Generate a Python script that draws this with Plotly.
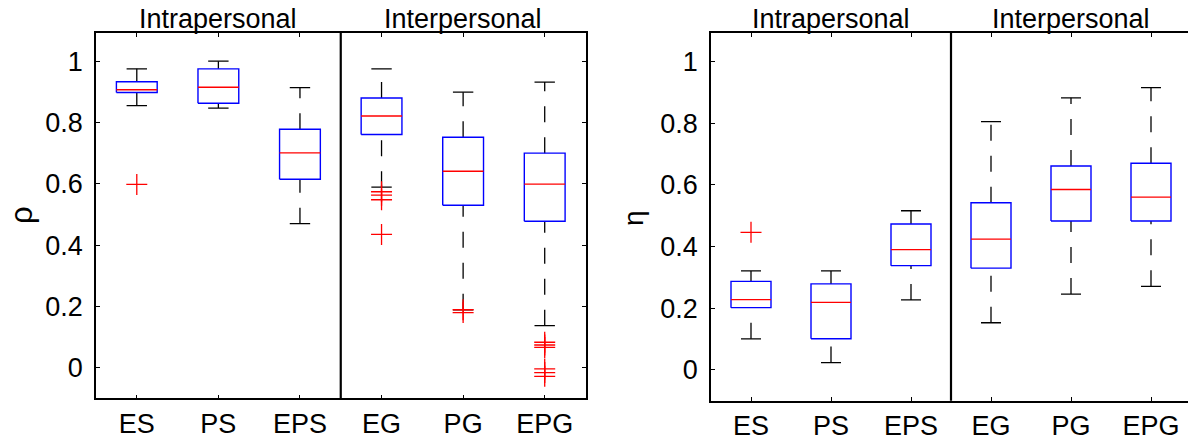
import plotly.graph_objects as go

# Categories and group headers
categories = ["ES", "PS", "EPS", "EG", "PG", "EPG"]
groups = ["Intrapersonal", "Interpersonal"]
n_intra = 3  # first three categories are intrapersonal

# Box statistics for rho (lower adjacent, Q1, median, Q3, upper adjacent)
rho_lower = [0.855, 0.847, 0.470, 0.589, 0.189, 0.137]
rho_q1 = [0.898, 0.863, 0.615, 0.761, 0.530, 0.478]
rho_median = [0.907, 0.915, 0.701, 0.821, 0.641, 0.599]
rho_q3 = [0.933, 0.975, 0.778, 0.880, 0.752, 0.700]
rho_upper = [0.975, 1.000, 0.914, 0.975, 0.899, 0.932]
rho_outliers = [
    [0.598],
    [],
    [],
    [0.574, 0.563, 0.548, 0.435],
    [0.189, 0.180],
    [0.083, 0.074, 0.066, -0.004, -0.016, -0.028],
]

# Box statistics for eta
eta_lower = [0.101, 0.024, 0.227, 0.153, 0.246, 0.271]
eta_q1 = [0.202, 0.101, 0.338, 0.330, 0.483, 0.483]
eta_median = [0.228, 0.219, 0.390, 0.424, 0.585, 0.560]
eta_q3 = [0.287, 0.279, 0.473, 0.542, 0.661, 0.670]
eta_upper = [0.321, 0.321, 0.516, 0.805, 0.882, 0.915]
eta_outliers = [[0.446], [], [], [], [], []]

y_ticks = [0, 0.2, 0.4, 0.6, 0.8, 1]
y_ticktext = ["0", "0.2", "0.4", "0.6", "0.8", "1"]

FONT = "Arial, Liberation Sans, Helvetica, sans-serif"
FS = 27
BLUE = "#0000ff"
RED = "#ff0000"
BLACK = "#000000"
HALF_BOX = 0.25
HALF_CAP = 0.125
W, H = 1188, 441


def box_traces(lower, q1, med, q3, upper, outliers, xa, ya):
    pos = list(range(1, len(categories) + 1))
    bx, by, mx, my, wx, wy, cx, cy, ox, oy = ([] for _ in range(10))
    for i, p in enumerate(pos):
        bx += [p - HALF_BOX, p + HALF_BOX, p + HALF_BOX, p - HALF_BOX, p - HALF_BOX, None]
        by += [q1[i], q1[i], q3[i], q3[i], q1[i], None]
        mx += [p - HALF_BOX, p + HALF_BOX, None]
        my += [med[i], med[i], None]
        # whiskers drawn from low to high value
        wx += [p, p, None, p, p, None]
        wy += [lower[i], q1[i], None, q3[i], upper[i], None]
        cx += [p - HALF_CAP, p + HALF_CAP, None, p - HALF_CAP, p + HALF_CAP, None]
        cy += [lower[i], lower[i], None, upper[i], upper[i], None]
        for v in outliers[i]:
            ox.append(p)
            oy.append(v)
    common = dict(xaxis=xa, yaxis=ya, showlegend=False, hoverinfo="skip")
    return [
        go.Scatter(x=wx, y=wy, mode="lines",
                   line=dict(color=BLACK, width=1.3, dash="16px,15px"), **common),
        go.Scatter(x=cx, y=cy, mode="lines", line=dict(color=BLACK, width=1.3), **common),
        go.Scatter(x=bx, y=by, mode="lines", line=dict(color=BLUE, width=1.4), **common),
        go.Scatter(x=mx, y=my, mode="lines", line=dict(color=RED, width=1.4), **common),
        go.Scatter(x=ox, y=oy, mode="markers",
                   marker=dict(symbol="cross-thin", size=15,
                               line=dict(color=RED, width=1.3)), **common),
    ]


fig = go.Figure()
for t in box_traces(rho_lower, rho_q1, rho_median, rho_q3, rho_upper, rho_outliers, "x", "y"):
    fig.add_trace(t)
for t in box_traces(eta_lower, eta_q1, eta_median, eta_q3, eta_upper, eta_outliers, "x2", "y2"):
    fig.add_trace(t)

positions = list(range(1, len(categories) + 1))
y_range = [-0.1, 1.093]

xcommon = dict(
    tickmode="array", tickvals=positions, ticktext=categories,
    showline=True, linecolor=BLACK, linewidth=1.6, mirror="ticks",
    ticks="inside", ticklen=4, tickwidth=1, tickcolor=BLACK,
    showgrid=False, zeroline=False, fixedrange=True,
    tickfont=dict(family=FONT, size=FS, color=BLACK),
)
ycommon = dict(
    tickmode="array", tickvals=y_ticks, ticktext=y_ticktext, range=y_range,
    showline=True, linecolor=BLACK, linewidth=1.6,
    ticks="inside", ticklen=4, tickwidth=1, tickcolor=BLACK,
    showgrid=False, zeroline=False, fixedrange=True,
    tickfont=dict(family=FONT, size=FS, color=BLACK),
    ticklabelstandoff=6,
)

fig.update_layout(
    width=W, height=H, autosize=False,
    margin=dict(l=0, r=0, t=0, b=0, pad=0),
    paper_bgcolor="white", plot_bgcolor="white",
    xaxis=dict(domain=[96 / W, 585.5 / W], range=[0.5, 6.5], anchor="y", **xcommon),
    yaxis=dict(domain=[1 - 402 / H, 1 - 33 / H], anchor="x", mirror="ticks", **ycommon),
    xaxis2=dict(domain=[711 / W, 1.0], range=[0.5, 6.5 - 3 / 80], anchor="y2", **xcommon),
    yaxis2=dict(domain=[1 - 404.5 / H, 1 - 33 / H], anchor="x2", mirror=False, **ycommon),
    yaxis3=dict(overlaying="y2", side="right", anchor="x2", range=y_range,
                tickmode="array", tickvals=y_ticks, showticklabels=False,
                ticks="inside", ticklen=3, tickwidth=1, tickcolor=BLACK,
                showline=False, showgrid=False, zeroline=False, fixedrange=True),
)

# divider between intrapersonal and interpersonal groups, and group headers
divider = n_intra + 0.5
for xa, ya in (("x", "y"), ("x2", "y2")):
    fig.add_shape(type="line", xref=xa, yref=f"{ya} domain", x0=divider, x1=divider,
                  y0=0, y1=1, line=dict(color=BLACK, width=2.2))
    for label, center in zip(groups, [(1 + n_intra) / 2, (n_intra + 1 + len(categories)) / 2]):
        fig.add_annotation(text=label, xref=xa, yref="paper", x=center, y=1 - 33 / H,
                           yanchor="bottom", showarrow=False, yshift=-3,
                           font=dict(family=FONT, size=FS, color=BLACK))

fig.add_annotation(text="ρ", xref="paper", yref="paper", x=21 / W, y=1 - 217 / H,
                   textangle=-90, showarrow=False, xanchor="center", yanchor="middle",
                   font=dict(family=FONT, size=31, color=BLACK))
fig.add_annotation(text="η", xref="paper", yref="paper", x=633 / W, y=1 - 220 / H,
                   textangle=-90, showarrow=False, xanchor="center", yanchor="middle",
                   font=dict(family=FONT, size=28, color=BLACK))

fig.write_html("out.html", config={"displayModeBar": False})
